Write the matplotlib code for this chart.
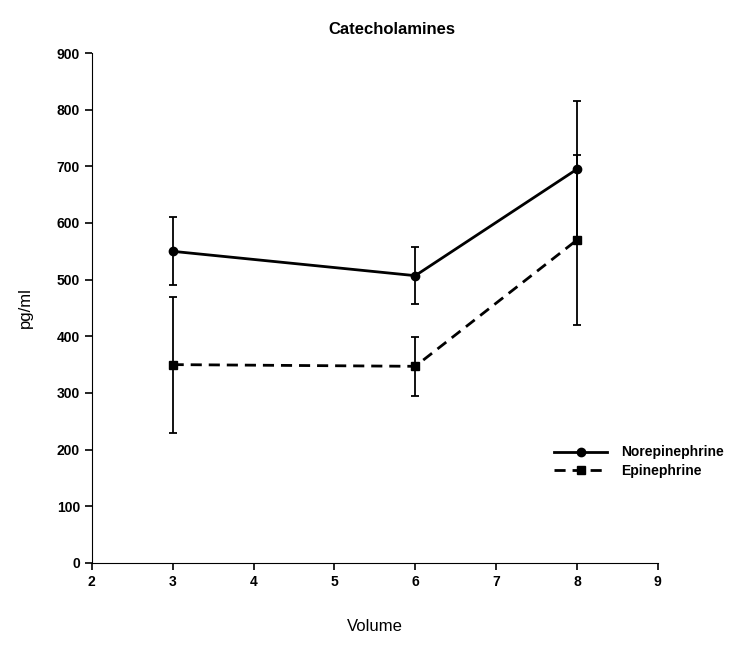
import matplotlib.pyplot as plt

plt.rcParams['font.family'] = ['Liberation Sans', 'DejaVu Sans']

volume = [3, 6, 8]
norepi = [550, 507, 695]
norepi_err = [60, 50, 120]
epi = [350, 347, 570]
epi_err = [120, 52, 150]

fig = plt.figure(figsize=(7.4, 6.63), dpi=100)
ax = fig.add_axes([0.124, 0.151, 0.765, 0.769])

nor = ax.errorbar(volume, norepi, yerr=norepi_err, fmt='-o', color='black',
                  lw=2, ms=6, elinewidth=1.3, capsize=3, capthick=1.3)
ep = ax.errorbar(volume, epi, yerr=epi_err, fmt='--s', color='black',
                 lw=2, ms=6, elinewidth=1.3, capsize=3, capthick=1.3,
                 dashes=(4, 2.5))

ax.set_xlim(2, 9)
ax.set_ylim(0, 900)
ax.set_xticks(range(2, 10))
ax.set_yticks(range(0, 1000, 100))
ax.spines['top'].set_visible(False)
ax.spines['right'].set_visible(False)
ax.tick_params(direction='out', length=5, width=1.2, labelsize=10)
for t in ax.get_xticklabels() + ax.get_yticklabels():
    t.set_fontweight('bold')

ax.set_title('Catecholamines', fontsize=12, fontweight='bold', pad=14, x=0.53)
ax.set_xlabel('Volume', fontsize=12, labelpad=22)
ax.set_ylabel('pg/ml', fontsize=12, labelpad=17)

leg = ax.legend([nor.lines[0], ep.lines[0]], ['Norepinephrine', 'Epinephrine'],
                loc='upper left', bbox_to_anchor=(0.795, 0.255), frameon=False,
                fontsize=10, handlelength=3.8, handletextpad=1.0,
                labelspacing=0.3)
for t in leg.get_texts():
    t.set_fontweight('bold')

plt.savefig('out.png', dpi=100)
